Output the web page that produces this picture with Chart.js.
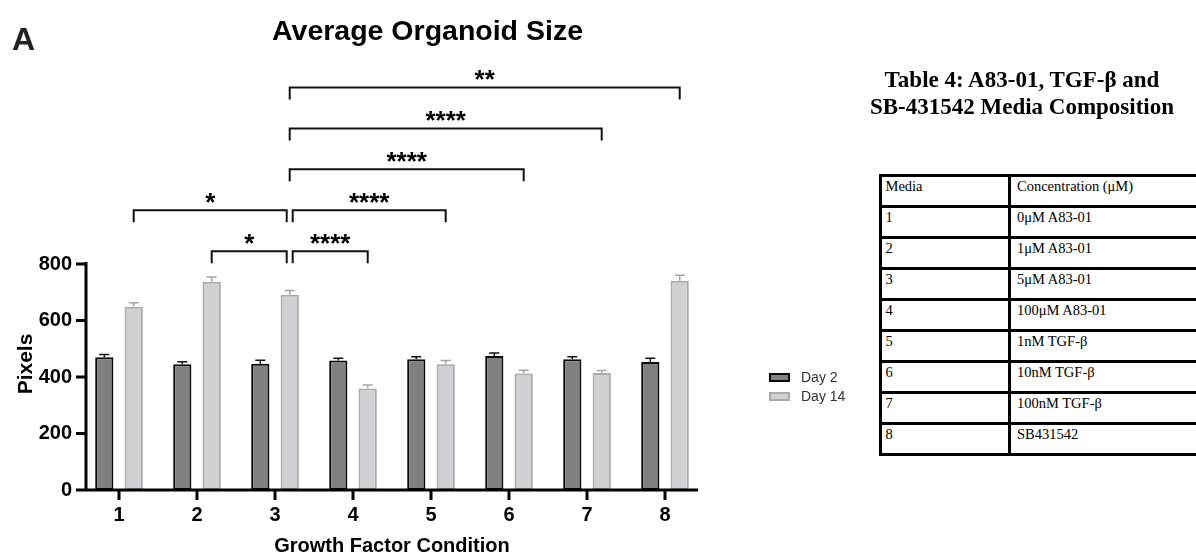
<!DOCTYPE html>
<html>
<head>
<meta charset="utf-8">
<title>Average Organoid Size</title>
<script src="https://cdn.jsdelivr.net/npm/chart.js@4.4.0/dist/chart.umd.min.js"></script>
<style>
  html, body { margin: 0; padding: 0; background: #fff; width: 1196px; height: 554px; overflow: hidden; }
  #chartBox { position: absolute; left: 0; top: 0; width: 855px; height: 560px; }
  #tableTitle { position: absolute; left: 844px; top: 66px; width: 356px; text-align: center;
    font: bold 23px/27px 'Liberation Serif', 'Times New Roman', serif; color: #000; }
  #media { position: absolute; left: 878.5px; top: 173.5px; width: 330px; height: 282px;
    border-collapse: collapse; table-layout: fixed;
    font: 14.5px 'Liberation Serif', 'Times New Roman', serif; color: #000; }
  #media td { border: 3px solid #000; padding: 0 0 8px 4px; white-space: nowrap; }
  #media td + td { padding-left: 6px; }
</style>
</head>
<body>
<div id="chartBox"><canvas id="organoidChart" width="855" height="560"></canvas></div>
<div id="tableTitle">Table 4: A83-01, TGF-β and<br>SB-431542 Media Composition</div>
<table id="media"><colgroup><col style="width:129.5px"><col></colgroup><tbody></tbody></table>

<script>
// ---- data ----
const conditions = ['1', '2', '3', '4', '5', '6', '7', '8'];
const day2Mean  = [470, 445, 447, 458, 463, 474, 463, 453];
const day2Sem   = [10, 9, 12, 8, 9, 11, 9, 13];
const day14Mean = [649, 737, 691, 359, 445, 412, 414, 741];
const day14Sem  = [14, 17, 15, 13, 13, 12, 9, 19];
const yTicks = [0, 200, 400, 600, 800];

// significance brackets between Day 14 bars (level is in axis units)
const sigFrom  = [2, 3, 1, 3, 3, 3, 3];
const sigTo    = [3, 4, 3, 5, 6, 7, 8];
const sigLabel = ['*', '****', '*', '****', '****', '****', '**'];
const sigLevel = [845, 845, 990, 990, 1135, 1280, 1425];

// table 4
const mediaHeader = ['Media', 'Concentration (μM)'];
const mediaIds  = ['1', '2', '3', '4', '5', '6', '7', '8'];
const mediaConc = ['0μM A83-01', '1μM A83-01', '5μM A83-01', '100μM A83-01',
                   '1nM TGF-β', '10nM TGF-β', '100nM TGF-β', 'SB431542'];

const tbody = document.querySelector('#media tbody');
[mediaHeader].concat(mediaIds.map((id, i) => [id, mediaConc[i]])).forEach(row => {
  const tr = document.createElement('tr');
  row.forEach(txt => {
    const td = document.createElement('td');
    td.textContent = txt;
    tr.appendChild(td);
  });
  tbody.appendChild(tr);
});

const SANS = "'Liberation Sans', Arial, sans-serif";
Chart.defaults.font.family = SANS;
Chart.defaults.color = '#000';

// error bars, axes, brackets, legend and loose text
const overlay = {
  id: 'overlay',
  afterDatasetsDraw(chart) {
    const { ctx, scales: { x, y } } = chart;
    ctx.save();

    // error bars (upper half only)
    chart.data.datasets.forEach((ds, di) => {
      chart.getDatasetMeta(di).data.forEach((bar, i) => {
        const top = y.getPixelForValue(ds.data[i] + ds.sem[i]);
        ctx.strokeStyle = ds.errColor;
        ctx.lineWidth = 1.5;
        ctx.beginPath();
        ctx.moveTo(bar.x, bar.y);
        ctx.lineTo(bar.x, top);
        ctx.moveTo(bar.x - 5, top);
        ctx.lineTo(bar.x + 5, top);
        ctx.stroke();
      });
    });

    // axis lines and tick marks
    const axisX = x.left + 6;
    const y0 = y.getPixelForValue(0);
    ctx.strokeStyle = '#000';
    ctx.lineWidth = 3;
    ctx.beginPath();
    ctx.moveTo(axisX, y.getPixelForValue(yTicks[yTicks.length - 1]) - 2);
    ctx.lineTo(axisX, y0);
    ctx.moveTo(x.left - 4, y0);
    ctx.lineTo(x.right - 6, y0);
    y.ticks.forEach(t => {
      const py = y.getPixelForValue(t.value);
      ctx.moveTo(axisX - 10, py);
      ctx.lineTo(axisX, py);
    });
    x.ticks.forEach((t, i) => {
      const px = x.getPixelForTick(i);
      ctx.moveTo(px, y0);
      ctx.lineTo(px, y0 + 10);
    });
    ctx.stroke();
    ctx.restore();
  },
  afterDraw(chart) {
    const { ctx, chartArea, scales: { y } } = chart;
    const d14 = chart.getDatasetMeta(1).data;
    ctx.save();

    // brackets
    ctx.strokeStyle = '#111';
    ctx.lineWidth = 2;
    ctx.fillStyle = '#000';
    ctx.font = 'bold 26px ' + SANS;
    ctx.textAlign = 'center';
    ctx.textBaseline = 'alphabetic';
    sigFrom.forEach((a, k) => {
      const b = sigTo[k];
      const lvl = sigLevel[k];
      // nudge ends apart where two brackets meet at the same level
      const shared = (cond) => sigLevel.some((l, j) => j !== k && l === lvl && (sigFrom[j] === cond || sigTo[j] === cond));
      let x1 = d14[a - 1].x, x2 = d14[b - 1].x;
      if (shared(a)) x1 += 3;
      if (shared(b)) x2 -= 3;
      const py = y.getPixelForValue(lvl);
      ctx.beginPath();
      ctx.moveTo(x1, py + 12);
      ctx.lineTo(x1, py);
      ctx.lineTo(x2, py);
      ctx.lineTo(x2, py + 12);
      ctx.stroke();
      ctx.fillText(sigLabel[k], (x1 + x2) / 2, py + 1);
    });

    // chart title and panel letter
    ctx.textAlign = 'center';
    ctx.font = 'bold 28.5px ' + SANS;
    ctx.fillText('Average Organoid Size', 427.5, 40);
    ctx.textAlign = 'left';
    ctx.fillStyle = '#222';
    ctx.font = 'bold 32px ' + SANS;
    ctx.fillText('A', 12, 50);

    // y axis title
    ctx.fillStyle = '#000';
    ctx.save();
    ctx.translate(26, 364);
    ctx.rotate(-Math.PI / 2);
    ctx.textAlign = 'center';
    ctx.textBaseline = 'middle';
    ctx.font = 'bold 21px ' + SANS;
    ctx.fillText('Pixels', 0, 0);
    ctx.restore();

    // legend
    const lx = chartArea.right + 65;
    chart.data.datasets.forEach((ds, i) => {
      const ly = 373 + i * 19;
      ctx.fillStyle = ds.backgroundColor;
      ctx.fillRect(lx, ly, 21, 9);
      ctx.strokeStyle = ds.borderColor;
      ctx.lineWidth = 2;
      ctx.strokeRect(lx + 1, ly + 1, 19, 7);
      ctx.fillStyle = '#333';
      ctx.font = '14px ' + SANS;
      ctx.textAlign = 'left';
      ctx.textBaseline = 'middle';
      ctx.fillText(ds.label, lx + 32, ly + 5);
    });
    ctx.restore();
  }
};

new Chart(document.getElementById('organoidChart'), {
  type: 'bar',
  data: {
    labels: conditions,
    datasets: [
      {
        label: 'Day 2',
        data: day2Mean,
        sem: day2Sem,
        backgroundColor: '#7f807f',
        borderColor: '#0a0a0a',
        errColor: '#111',
        borderWidth: 2,
        borderSkipped: false,
        categoryPercentage: 0.754,
        barPercentage: 0.62
      },
      {
        label: 'Day 14',
        data: day14Mean,
        sem: day14Sem,
        backgroundColor: '#d1d1d3',
        borderColor: '#a9a9a9',
        errColor: '#a5a5a5',
        borderWidth: 2,
        borderSkipped: false,
        categoryPercentage: 0.754,
        barPercentage: 0.62
      }
    ]
  },
  options: {
    responsive: false,
    animation: false,
    devicePixelRatio: 1,
    layout: { padding: { top: 264, right: 151, left: 0, bottom: 0 } },
    plugins: {
      legend: { display: false },
      title: { display: false },
      tooltip: { enabled: false }
    },
    scales: {
      x: {
        offset: true,
        grid: { display: false, drawTicks: false },
        border: { display: false },
        ticks: { padding: 13, font: { size: 20, weight: 'bold' }, color: '#000' },
        title: { display: true, text: 'Growth Factor Condition', padding: { top: 0, bottom: 2 },
                 font: { size: 20, weight: 'bold' }, color: '#000' },
        afterFit: s => { s.height = 70; }
      },
      y: {
        min: 0,
        max: 800,
        grid: { display: false, drawTicks: false },
        border: { display: false },
        ticks: { padding: 8, font: { size: 20, weight: 'bold' }, color: '#000' },
        afterBuildTicks: s => { s.ticks = yTicks.map(v => ({ value: v })); },
        afterFit: s => { s.width = 80; }
      }
    }
  },
  plugins: [overlay]
});
</script>
</body>
</html>
